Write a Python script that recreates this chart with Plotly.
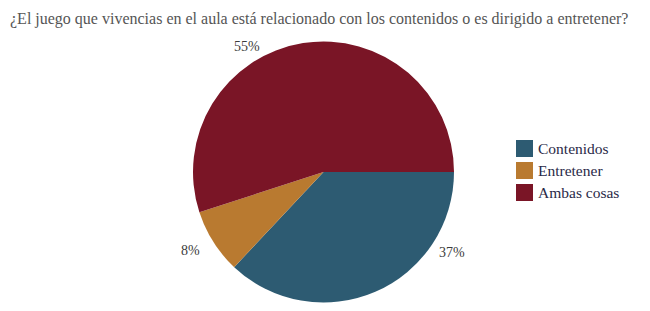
import plotly.graph_objects as go

title_text = "¿El juego que vivencias en el aula está relacionado con los contenidos o es dirigido a entretener?"
categories = ["Contenidos", "Entretener", "Ambas cosas"]
values = [37, 8, 55]
colors = ["#2D5B72", "#B97A30", "#7A1526"]

W, H = 650, 311
OFF = 8  # page body margin in the browser


def px(x):
    return (x - OFF) / W


def py(y):
    return 1 - (y - OFF) / H


cx, cy, r = 323.5, 172, 130.5

fig = go.Figure(go.Pie(
    labels=categories,
    values=values,
    marker=dict(colors=colors, line=dict(width=0)),
    sort=False,
    direction="clockwise",
    rotation=90,
    textinfo="none",
    hoverinfo="label+percent",
    showlegend=False,
    domain=dict(x=[px(cx - r), px(cx + r)], y=[py(cy + r), py(cy - r)]),
))

# percentage labels placed outside the pie, as in the reference
label_pos = {"Contenidos": (452, 252), "Entretener": (190, 250), "Ambas cosas": (247, 47)}
for cat, v in zip(categories, values):
    x, y = label_pos[cat]
    fig.add_annotation(x=px(x), y=py(y), xref="paper", yref="paper",
                       xanchor="center", yanchor="middle",
                       text=f"{v}%", showarrow=False,
                       font=dict(family="Liberation Serif", size=14, color="#3C3C3C"))

# title
fig.add_annotation(x=px(8), y=py(19), xref="paper", yref="paper",
                   xanchor="left", yanchor="middle",
                   text=title_text, showarrow=False,
                   font=dict(family="Liberation Serif", size=16, color="#555555"))

# legend (squares + labels)
leg_x0, leg_y0, sq, step = 516, 140, 17, 22
for i, (cat, col) in enumerate(zip(categories, colors)):
    top = leg_y0 + i * step
    fig.add_shape(type="rect", xref="paper", yref="paper",
                  x0=px(leg_x0), x1=px(leg_x0 + sq), y0=py(top + sq), y1=py(top),
                  fillcolor=col, line=dict(width=0))
    fig.add_annotation(x=px(leg_x0 + sq + 3), y=py(top + sq / 2), xref="paper", yref="paper",
                       xanchor="left", yanchor="middle", text=cat, showarrow=False,
                       font=dict(family="Liberation Serif", size=15.5, color="#2A2A48"))

fig.update_layout(
    width=W, height=H,
    margin=dict(l=0, r=0, t=0, b=0),
    paper_bgcolor="white",
    showlegend=False,
)

fig.write_html("out.html")
